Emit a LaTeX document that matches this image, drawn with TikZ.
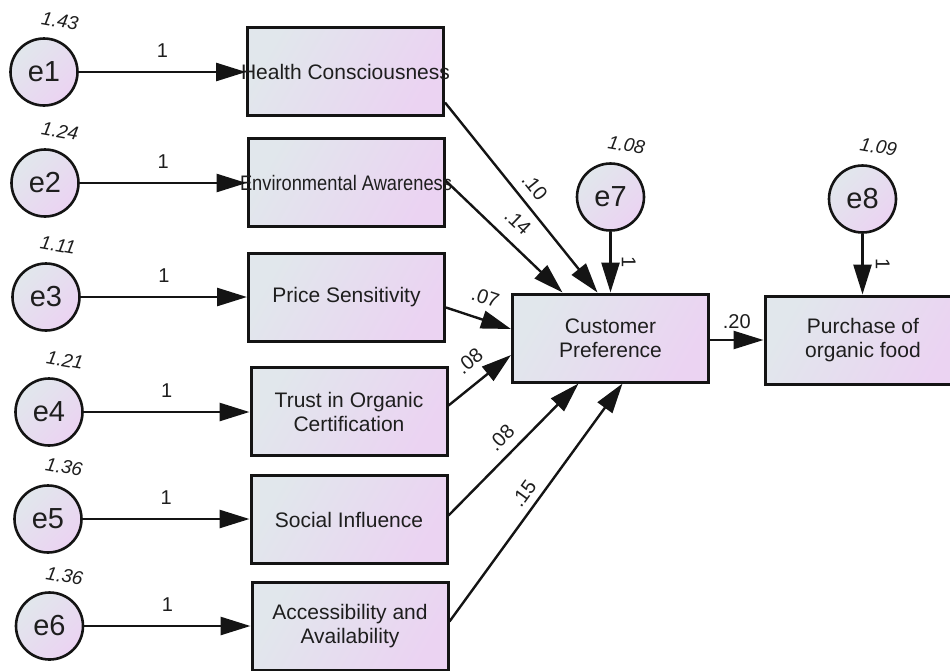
\documentclass[tikz,border=0pt]{standalone}
\usepackage{fontspec}
\usepackage{graphicx}
\setmainfont{Liberation Sans}
\usetikzlibrary{arrows.meta,calc}
\definecolor{fillL}{RGB}{225,231,236}
\definecolor{fillR}{RGB}{235,211,242}
\definecolor{edgec}{RGB}{20,20,20}
\definecolor{txtc}{RGB}{30,30,30}
\begin{document}
\begin{tikzpicture}[x=1pt,y=-1pt,
  obsbox/.style={draw=edgec, line width=3pt, left color=fillL, right color=fillR, shading angle=60,
    minimum width=196pt, minimum height=88pt, inner sep=0pt, text=txtc,
    font=\fontsize{21}{24}\selectfont, align=center},
  errc/.style={circle, draw=edgec, line width=2.6pt, left color=fillL, right color=fillR, shading angle=45,
    minimum size=67pt, inner sep=0pt, text=txtc, font=\fontsize{29}{30}\selectfont},
  varlbl/.style={font=\fontsize{19}{20}\selectfont\itshape, text=txtc, rotate=-10, inner sep=0pt},
  wlbl/.style={font=\fontsize{20}{20}\selectfont, text=txtc, inner sep=2pt},
  arr/.style={line width=2.7pt, draw=edgec, -{Triangle[length=30pt,width=18pt]}},
  reg/.style={line width=2.4pt, draw=edgec, -{Triangle[length=30pt,width=18pt]}}
]
\useasboundingbox (0,0) rectangle (950,670);
\clip (0,0) rectangle (950,670);

% observed boxes
\node[obsbox] (hc) at (345.5,71.5) {\makebox[0pt]{Health Consciousness}};
\node[obsbox] (ea) at (346,182.5) {\makebox[0pt]{\scalebox{0.87}[1]{Environmental Awareness}}};
\node[obsbox] (ps) at (346.5,297.5) {Price Sensitivity};
\node[obsbox] (toc) at (349,411.5) {Trust in Organic\\Certification};
\node[obsbox] (si) at (349,519.5) {Social Influence};
\node[obsbox] (aa) at (350,626.5) {Accessibility and\\Availability};
\node[obsbox] (cp) at (610.5,338) {Customer\\Preference};
\node[obsbox] (pu) at (863,340) {Purchase of\\organic food};

% error circles
\node[errc] (e1) at (44,72) {e1};
\node[errc] (e2) at (45,183) {e2};
\node[errc] (e3) at (46,297) {e3};
\node[errc] (e4) at (49,412) {e4};
\node[errc] (e5) at (48,519) {e5};
\node[errc] (e6) at (49.5,626) {e6};
\node[errc] (e7) at (610.5,197) {e7};
\node[errc] (e8) at (862.5,199) {e8};

% variances
\node[varlbl] (v1) at ($(e1)+(16,-51)$) {1.43};
\node[varlbl] (v2) at ($(e2)+(15,-52)$) {1.24};
\node[varlbl] (v3) at ($(e3)+(12,-52)$) {1.11};
\node[varlbl] (v4) at ($(e4)+(16,-52)$) {1.21};
\node[varlbl] (v5) at ($(e5)+(16,-52)$) {1.36};
\node[varlbl] (v6) at ($(e6)+(15,-50)$) {1.36};
\node[varlbl] (v7) at ($(e7)+(16,-52)$) {1.08};
\node[varlbl] (v8) at ($(e8)+(16,-52)$) {1.09};

% error -> observed
\foreach \e/\b in {e1/hc,e2/ea,e3/ps,e4/toc,e5/si,e6/aa}{
  \draw[arr] (\e) -- (\e -| \b.west) node[wlbl, midway, above=11pt] {1};
}
\draw[arr] (e7) -- (cp.north -| e7) node[wlbl, pos=0.5, rotate=-90, anchor=south, inner sep=10pt] {1};
\draw[arr] (e8) -- (pu.north -| e8) node[wlbl, pos=0.5, rotate=-90, anchor=south, inner sep=12pt] {1};

% regressions
\draw[reg] ($(hc.east)+(0,31)$) -- ($(cp.north)+(-13,0)$) node[wlbl, pos=0.5, sloped, above=7pt] {.10};
\draw[reg] ($(ea.east)+(0,-2)$) -- ($(cp.north)+(-48,0)$) node[wlbl, pos=0.5, sloped, above=10pt] {.14};
\draw[reg] ($(ps.east)+(0,10)$) -- ($(cp.west)+(0,-9)$) node[wlbl, pos=0.5, sloped, above=12pt] {.07};
\draw[reg] ($(toc.east)+(0,-6)$) -- ($(cp.west)+(0,17)$) node[wlbl, pos=0.55, sloped, above=11pt] {.08};
\draw[reg] ($(si.east)+(0,-4)$) -- ($(cp.south)+(-32,0)$) node[wlbl, pos=0.5, sloped, above=7pt] {.08};
\draw[reg] ($(aa.east)+(0,-5)$) -- ($(cp.south)+(12,0)$) node[wlbl, pos=0.5, sloped, above=5pt] {.15};
\draw[reg] (cp.east |- pu.west) -- (pu.west) node[wlbl, pos=0.5, above=8pt] {.20};
\end{tikzpicture}
\end{document}
